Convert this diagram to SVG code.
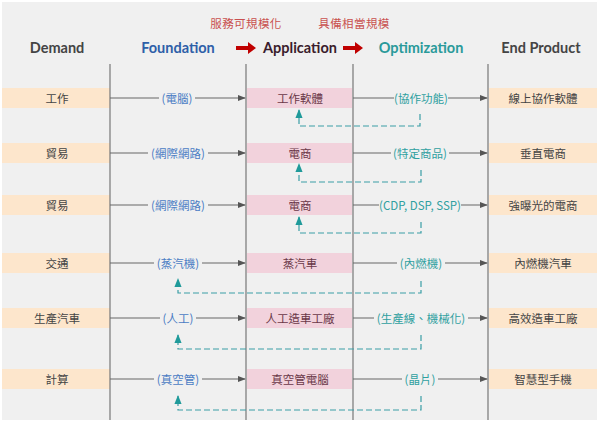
<svg xmlns="http://www.w3.org/2000/svg" width="600" height="424" viewBox="0 0 600 424">
<defs>
<marker id="ah" viewBox="0 0 10 10" refX="9" refY="5" markerWidth="8" markerHeight="8" markerUnits="userSpaceOnUse" orient="auto"><path d="M0,1 L10,5 L0,9 Z" fill="#555"/></marker>
<marker id="th" viewBox="0 0 10 10" refX="9" refY="5" markerWidth="9" markerHeight="9" markerUnits="userSpaceOnUse" orient="auto"><path d="M0,1 L10,5 L0,9 Z" fill="#1f9a9a"/></marker>
</defs>
<style>
.hd{font-family:Lato,"Open Sans",sans-serif;font-weight:bold;font-size:14.5px;text-anchor:middle}
.cj{font-family:"Noto Sans CJK TC","Noto Sans",sans-serif;font-size:11.5px;text-anchor:middle;dominant-baseline:central}
.top{fill:#c9504f;letter-spacing:0.4px}
.dm{fill:#444}
.ap{fill:#6a3848}
.fl{fill:#4a7cc4}
.ol{fill:#2fa0a0}
.peach{fill:#fde6cc}
.pink{fill:#f2d2dc}
.vl{stroke:#777;stroke-width:1.2}
.ar{stroke:#666;stroke-width:1.2;fill:none;marker-end:url(#ah)}
.fb{stroke:#3a9ea6;stroke-width:1.2;fill:none;stroke-dasharray:6 3;marker-end:url(#th)}
.gap{fill:#f0f0f0}
</style>
<rect x="0" y="0" width="600" height="424" fill="#fff"/>
<rect x="2" y="2" width="595" height="418" fill="#f0f0f0"/>

<g id="headers">
<text class="cj top" x="246" y="23">服務可規模化</text>
<text class="cj top" x="354" y="23">具備相當規模</text>
<text class="hd" x="57" y="53" fill="#444">Demand</text>
<text class="hd" x="178" y="53" fill="#2e5fa8">Foundation</text>
<text class="hd" x="300" y="53" fill="#3a1c2c">Application</text>
<text class="hd" x="421" y="53" fill="#2a9a9a">Optimization</text>
<text class="hd" x="541" y="53" fill="#444">End Product</text>
<path d="M236,46 h12 v-4 l8,6 l-8,6 v-4 h-12 z" fill="#c00000"/>
<path d="M343,46 h12 v-4 l8,6 l-8,6 v-4 h-12 z" fill="#c00000"/>
</g>

<g id="bands">
<rect class="peach" x="2" y="88" width="108" height="20"/><rect class="pink" x="247" y="88" width="105" height="20"/><rect class="peach" x="489" y="88" width="108" height="20"/>
<rect class="peach" x="2" y="143" width="108" height="20"/><rect class="pink" x="247" y="143" width="105" height="20"/><rect class="peach" x="489" y="143" width="108" height="20"/>
<rect class="peach" x="2" y="195" width="108" height="20"/><rect class="pink" x="247" y="195" width="105" height="20"/><rect class="peach" x="489" y="195" width="108" height="20"/>
<rect class="peach" x="2" y="253" width="108" height="20"/><rect class="pink" x="247" y="253" width="105" height="20"/><rect class="peach" x="489" y="253" width="108" height="20"/>
<rect class="peach" x="2" y="308" width="108" height="20"/><rect class="pink" x="247" y="308" width="105" height="20"/><rect class="peach" x="489" y="308" width="108" height="20"/>
<rect class="peach" x="2" y="369" width="108" height="20"/><rect class="pink" x="247" y="369" width="105" height="20"/><rect class="peach" x="489" y="369" width="108" height="20"/>
</g>

<g id="lanes">
<line class="vl" x1="110" y1="64" x2="110" y2="420"/>
<line class="vl" x1="246" y1="64" x2="246" y2="420"/>
<line class="vl" x1="353" y1="64" x2="353" y2="420"/>
<line class="vl" x1="488" y1="64" x2="488" y2="420"/>
</g>

<g id="connectors">
<line class="ar" x1="110" y1="98" x2="245" y2="98"/>
<line class="ar" x1="353" y1="98" x2="487" y2="98"/>
<path class="fb" d="M420,114 V126 H299 V110"/>
<line class="ar" x1="110" y1="153" x2="245" y2="153"/>
<line class="ar" x1="353" y1="153" x2="487" y2="153"/>
<path class="fb" d="M421,170 V182 H299 V164"/>
<line class="ar" x1="110" y1="205" x2="245" y2="205"/>
<line class="ar" x1="353" y1="205" x2="487" y2="205"/>
<path class="fb" d="M421,222 V233 H299 V217"/>
<line class="ar" x1="110" y1="263" x2="245" y2="263"/>
<line class="ar" x1="353" y1="263" x2="487" y2="263"/>
<path class="fb" d="M421,281 V293 H178 V279"/>
<line class="ar" x1="110" y1="318" x2="245" y2="318"/>
<line class="ar" x1="353" y1="318" x2="487" y2="318"/>
<path class="fb" d="M421,335 V349 H178 V335"/>
<line class="ar" x1="110" y1="379" x2="245" y2="379"/>
<line class="ar" x1="353" y1="379" x2="487" y2="379"/>
<path class="fb" d="M421,396 V410 H178 V396"/>
<rect class="gap" x="159" y="91" width="36" height="14"/>
<rect class="gap" x="394" y="91" width="54" height="14"/>
<rect class="gap" x="148" y="146" width="60" height="14"/>
<rect class="gap" x="391" y="146" width="58" height="14"/>
<rect class="gap" x="148" y="198" width="60" height="14"/>
<rect class="gap" x="379" y="198" width="82" height="14"/>
<rect class="gap" x="154" y="256" width="48" height="14"/>
<rect class="gap" x="397" y="256" width="48" height="14"/>
<rect class="gap" x="160" y="311" width="36" height="14"/>
<rect class="gap" x="374" y="311" width="94" height="14"/>
<rect class="gap" x="154" y="372" width="48" height="14"/>
<rect class="gap" x="402" y="372" width="36" height="14"/>
<text class="cj fl" x="177" y="98">(電腦)</text>
<text class="cj ol" x="421" y="98">(協作功能)</text>
<text class="cj fl" x="178" y="153">(網際網路)</text>
<text class="cj ol" x="420" y="153">(特定商品)</text>
<text class="cj fl" x="178" y="205">(網際網路)</text>
<text class="cj ol" x="420" y="205" font-family="Lato,'Open Sans',sans-serif">(CDP, DSP, SSP)</text>
<text class="cj fl" x="178" y="263">(蒸汽機)</text>
<text class="cj ol" x="421" y="263">(內燃機)</text>
<text class="cj fl" x="178" y="318">(人工)</text>
<text class="cj ol" x="421" y="318">(生產線、機械化)</text>
<text class="cj fl" x="178" y="379">(真空管)</text>
<text class="cj ol" x="420" y="379">(晶片)</text>
</g>

<g id="row1"><text class="cj dm" x="57" y="98">工作</text><text class="cj ap" x="300" y="98">工作軟體</text><text class="cj dm" x="543" y="98">線上協作軟體</text></g>
<g id="row2"><text class="cj dm" x="57" y="153">貿易</text><text class="cj ap" x="300" y="153">電商</text><text class="cj dm" x="543" y="153">垂直電商</text></g>
<g id="row3"><text class="cj dm" x="57" y="205">貿易</text><text class="cj ap" x="300" y="205">電商</text><text class="cj dm" x="543" y="205">強曝光的電商</text></g>
<g id="row4"><text class="cj dm" x="57" y="263">交通</text><text class="cj ap" x="300" y="263">蒸汽車</text><text class="cj dm" x="543" y="263">內燃機汽車</text></g>
<g id="row5"><text class="cj dm" x="57" y="318">生產汽車</text><text class="cj ap" x="300" y="318">人工造車工廠</text><text class="cj dm" x="543" y="318">高效造車工廠</text></g>
<g id="row6"><text class="cj dm" x="57" y="379">計算</text><text class="cj ap" x="300" y="379">真空管電腦</text><text class="cj dm" x="543" y="379">智慧型手機</text></g>
</svg>
